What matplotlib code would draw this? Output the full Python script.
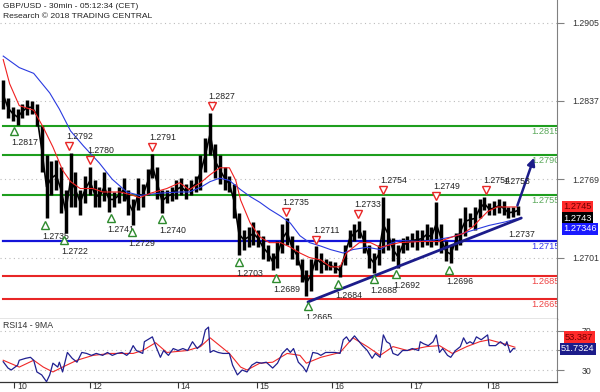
import numpy as np
import matplotlib.pyplot as plt
from matplotlib import transforms

plt.rcParams['font.family'] = ['Liberation Sans', 'DejaVu Sans']

# 30 min bars, one sample every 3 bars (low / high of the sample)
bars = np.arange(2, 324, 3)
bar_low = [1.2830, 1.2822, 1.2820, 1.2816, 1.2822, 1.2825, 1.2826, 1.2815, 1.2775, 1.2735,
           1.2755, 1.2760, 1.2740, 1.2722, 1.2745, 1.2745, 1.2738, 1.2748, 1.2755, 1.2745,
           1.2745, 1.2750, 1.2741, 1.2745, 1.2748, 1.2750, 1.2738, 1.2729, 1.2742, 1.2745,
           1.2755, 1.2770, 1.2752, 1.2740, 1.2748, 1.2750, 1.2752, 1.2755, 1.2752, 1.2755,
           1.2758, 1.2760, 1.2775, 1.2790, 1.2770, 1.2765, 1.2760, 1.2758, 1.2735, 1.2703,
           1.2708, 1.2710, 1.2712, 1.2710, 1.2700, 1.2698, 1.2690, 1.2692, 1.2705, 1.2712,
           1.2700, 1.2695, 1.2680, 1.2668, 1.2672, 1.2690, 1.2688, 1.2690, 1.2690, 1.2688,
           1.2684, 1.2695, 1.2710, 1.2715, 1.2718, 1.2705, 1.2692, 1.2688, 1.2695, 1.2705,
           1.2708, 1.2698, 1.2692, 1.2705, 1.2708, 1.2710, 1.2708, 1.2710, 1.2712, 1.2710,
           1.2712, 1.2705, 1.2698, 1.2696, 1.2708, 1.2712, 1.2720, 1.2728, 1.2725, 1.2735,
           1.2742, 1.2738, 1.2738, 1.2740, 1.2738, 1.2735, 1.2736, 1.2738]
bar_high = [1.2855, 1.2840, 1.2832, 1.2830, 1.2834, 1.2838, 1.2837, 1.2834, 1.2815, 1.2790,
            1.2785, 1.2786, 1.2780, 1.2760, 1.2792, 1.2775, 1.2760, 1.2772, 1.2780, 1.2768,
            1.2762, 1.2775, 1.2762, 1.2758, 1.2762, 1.2770, 1.2760, 1.2752, 1.2770, 1.2765,
            1.2778, 1.2791, 1.2780, 1.2760, 1.2760, 1.2762, 1.2768, 1.2770, 1.2765, 1.2768,
            1.2772, 1.2790, 1.2805, 1.2827, 1.2800, 1.2790, 1.2780, 1.2772, 1.2765, 1.2740,
            1.2725, 1.2728, 1.2732, 1.2725, 1.2720, 1.2712, 1.2705, 1.2715, 1.2730, 1.2735,
            1.2720, 1.2712, 1.2700, 1.2690, 1.2700, 1.2711, 1.2705, 1.2700, 1.2698, 1.2697,
            1.2695, 1.2712, 1.2725, 1.2730, 1.2733, 1.2725, 1.2712, 1.2705, 1.2712, 1.2754,
            1.2735, 1.2718, 1.2712, 1.2718, 1.2720, 1.2722, 1.2725, 1.2725, 1.2730, 1.2728,
            1.2749, 1.2730, 1.2715, 1.2712, 1.2722, 1.2735, 1.2745, 1.2740, 1.2745, 1.2752,
            1.2754, 1.2748, 1.2750, 1.2752, 1.2750, 1.2745, 1.2745, 1.2746]

# moving averages on price
ma_fast_t = [2, 6, 12, 21, 27, 33, 39, 44, 50, 58, 64, 75, 83, 87, 94, 104, 112, 118, 125, 131,
             137, 143, 147, 150, 156, 162, 168, 175, 181, 187, 193, 200, 206, 212, 216, 224, 231,
             237, 243, 249, 262, 274, 282, 289, 295, 299, 304, 310, 316, 322]
ma_fast = [1.2873, 1.2852, 1.2833, 1.2829, 1.2814, 1.2797, 1.2777, 1.2767, 1.2761, 1.2761,
           1.2758, 1.2758, 1.2755, 1.2753, 1.2757, 1.2761, 1.2766, 1.2760, 1.2766, 1.2773,
           1.2779, 1.2779, 1.2768, 1.2751, 1.2731, 1.2719, 1.2714, 1.2714, 1.2710, 1.2705,
           1.2701, 1.2699, 1.2693, 1.2693, 1.2705, 1.2714, 1.2714, 1.2710, 1.2712, 1.2714,
           1.2715, 1.2715, 1.2719, 1.2722, 1.2728, 1.2734, 1.2741, 1.2745, 1.2745, 1.2745]
ma_slow_t = [2, 12, 21, 31, 37, 44, 52, 62, 70, 79, 87, 100, 112, 118, 125, 131, 137, 143, 150,
             156, 162, 168, 175, 181, 187, 193, 200, 206, 214, 220, 229, 237, 243, 249, 262, 274,
             282, 293, 305, 315, 322]
ma_slow = [1.2876, 1.2866, 1.2861, 1.2844, 1.2830, 1.2811, 1.2798, 1.2783, 1.2769, 1.2758,
           1.2755, 1.2757, 1.2758, 1.2758, 1.2762, 1.2767, 1.2770, 1.2768, 1.2760, 1.2754,
           1.2749, 1.2743, 1.2737, 1.2731, 1.2720, 1.2714, 1.2711, 1.2708, 1.2705, 1.2708,
           1.2710, 1.2708, 1.2713, 1.2716, 1.2715, 1.2717, 1.2719, 1.2724, 1.2729, 1.2732,
           1.27346]

# RSI 14 and its 9 period MA
rsi_t = [2, 5, 7, 11, 12, 16, 19, 21, 23, 26, 29, 31, 33, 36, 37, 39, 42, 45, 48, 51, 54, 57,
         60, 64, 67, 70, 73, 76, 79, 81, 83, 85, 89, 90, 92, 95, 97, 100, 102, 105, 108, 111,
         114, 117, 120, 123, 126, 128, 130, 131, 133, 136, 139, 143, 145, 148, 151, 154, 157,
         160, 163, 166, 170, 173, 176, 179, 181, 183, 186, 189, 191, 193, 195, 198, 200, 203,
         206, 209, 212, 214, 216, 218, 221, 223, 226, 229, 232, 234, 237, 239, 241, 243, 245,
         248, 251, 254, 257, 261, 262, 264, 267, 270, 272, 274, 276, 279, 281, 284, 287, 289,
         291, 293, 295, 297, 300, 304, 305, 309, 312, 315, 316, 318, 320, 321]
rsi = [38.5, 32, 30, 35, 40, 42, 43, 40, 28, 25, 18, 25, 37, 33, 38, 28, 48, 42, 38, 48, 47, 45,
       47, 45, 48, 45, 47, 48, 45, 48, 55, 50, 47, 59, 61, 64, 55, 43, 50, 45, 52, 50,
       52, 50, 59, 52, 57, 71, 74, 48, 50, 48, 47, 47, 35, 25, 30, 28, 35,
       38, 37, 38, 32, 37, 47, 52, 48, 52, 38, 33, 28, 37, 48, 47, 45, 48,
       48, 48, 47, 61, 64, 59, 65, 61, 55, 50, 42, 47, 43, 66, 59, 57, 47,
       45, 50, 50, 52, 50, 59, 57, 55, 59, 66, 48, 52, 45, 43, 50, 54, 63,
       57, 59, 57, 64, 61, 66, 55, 55, 59, 55, 59, 48, 52, 51.7324]
rsi_ma_t = [2, 12, 21, 27, 33, 39, 48, 58, 69, 83, 89, 97, 104, 117, 125, 131, 137, 143, 150,
            154, 162, 170, 179, 187, 191, 200, 212, 220, 229, 237, 245, 254, 266, 274, 282, 291,
            299, 305, 314, 321]
rsi_ma = [40, 33, 40, 33, 28, 33, 40, 45, 47, 47, 50, 58, 48, 50, 54, 63, 55, 47, 33,
          30, 37, 38, 47, 45, 37, 43, 48, 63, 54, 45, 54, 50, 54, 55, 47, 54,
          59, 61, 57, 53.387]

# analysis levels
resistances = [1.2815, 1.2790, 1.2755]
pivot = 1.2715
supports = [1.2685, 1.2665]

# swing points: bar, price, 'L' low / 'H' high, marker shown
swings = [(9, 1.2817, 'L', True), (28, 1.2735, 'L', True), (40, 1.2722, 'L', True),
          (69, 1.2741, 'L', True), (82, 1.2729, 'L', True), (101, 1.2740, 'L', True),
          (149, 1.2703, 'L', True), (172, 1.2689, 'L', True), (192, 1.2665, 'L', True),
          (211, 1.2684, 'L', True), (233, 1.2688, 'L', True), (247, 1.2692, 'L', True),
          (280, 1.2696, 'L', True), (318.6, 1.2737, 'L', False),
          (43, 1.2792, 'H', True), (56, 1.2780, 'H', True), (95, 1.2791, 'H', True),
          (132, 1.2827, 'H', True), (178, 1.2735, 'H', True), (197, 1.2711, 'H', True),
          (223, 1.2733, 'H', True), (239, 1.2754, 'H', True), (272, 1.2749, 'H', True),
          (303, 1.2754, 'H', True), (315.5, 1.2753, 'H', False)]

trend_t = [192, 325]
trend_p = [1.26625, 1.27354]
target_t = [322, 333.5]
target_p = [1.2744, 1.2790]

day_ticks = [9, 56, 111, 160, 207, 256, 304]
day_labels = ['10', '12', '14', '15', '16', '17', '18']
price_ticks = [1.2905, 1.2837, 1.2769, 1.2701]
rsi_ticks = [70, 50, 30]
rsi_tick_labels = ['70', '', '30']   # the 50 label sits under the RSI value box

last_close = 1.2743

green = '#1e9e1e'
blue = '#1414d8'
red = '#e82626'
navy = '#1c1c8a'
fs = 6.3

fig = plt.figure(figsize=(6, 3.92), dpi=100)
ax = fig.add_axes([0, 73 / 392, 557 / 600, 319 / 392])
ax2 = fig.add_axes([0, 10 / 392, 557 / 600, 63 / 392], sharex=ax)

ax.set_xlim(0, 557 / 1.604)
ax.set_ylim(1.26477, 1.29247)
ax2.set_ylim(17.7, 82.3)

for a in (ax, ax2):
    a.spines['top'].set_visible(False)
    a.spines['left'].set_visible(False)
    a.spines['right'].set_color('#808080')
    a.spines['bottom'].set_color('#333333')
    a.spines['bottom'].set_linewidth(0.9)
    a.yaxis.tick_right()
    a.grid(axis='y', color='#bcbcbc', linestyle=(0, (1, 3)), lw=0.8)
    a.set_axisbelow(True)

ax.set_yticks(price_ticks)
ax.set_yticklabels([f'{v:.4f}' for v in price_ticks])
ax.tick_params(axis='y', length=5, color='#808080', labelsize=fs, pad=6, labelcolor='#333333')
ax.tick_params(axis='x', bottom=False, labelbottom=False)

ax2.set_yticks(rsi_ticks)
ax2.set_yticklabels(rsi_tick_labels)
ax2.tick_params(axis='y', length=5, color='#808080', labelsize=fs, pad=13, labelcolor='#333333')
ax2.set_xticks(day_ticks)
ax2.set_xticklabels(day_labels)
ax2.tick_params(axis='x', length=4.5, color='#333333', labelsize=fs, pad=-4.5,
                labelcolor='#333333')
shift = transforms.ScaledTranslation(2.5 / 100, 0, fig.dpi_scale_trans)
for lab in ax2.get_xticklabels():
    lab.set_ha('left')
    lab.set_transform(lab.get_transform() + shift)

# level lines
for lv in resistances:
    ax.axhline(lv, xmin=0.005, color=green, lw=1.5, zorder=2)
ax.axhline(pivot, xmin=0.005, color=blue, lw=1.6, zorder=2)
for lv in supports:
    ax.axhline(lv, xmin=0.005, color=red, lw=1.5, zorder=2)

lab_x = 531 / 1.604
down = transforms.offset_copy(ax.transData, fig, x=0, y=-5, units='dots')
for lv in resistances:
    ax.text(lab_x, lv, f'{lv:.4f}', color='#5aa85a', fontsize=fs + 0.4, va='center',
            transform=down, clip_on=True)
ax.text(lab_x, pivot, f'{pivot:.4f}', color='#3a3aee', fontsize=fs + 0.4, va='center',
        transform=down, clip_on=True)
for lv in supports:
    ax.text(lab_x, lv, f'{lv:.4f}', color='#ee4444', fontsize=fs + 0.4, va='center',
            transform=down, clip_on=True)

# price bars and averages
mid = (np.array(bar_low) + np.array(bar_high)) / 2
ax.vlines(bars, bar_low, bar_high, color='black', lw=2.5, zorder=4)
ax.plot(bars, mid, color='black', lw=1.2, zorder=4)
ax.plot(ma_slow_t, ma_slow, color='#2a3ae0', lw=0.8, zorder=5)
ax.plot(ma_fast_t, ma_fast, color='#f02020', lw=0.8, zorder=5)

# trend line and target arrow
ax.plot(trend_t, trend_p, color=navy, lw=2.0, zorder=6, solid_capstyle='round')
ax.annotate('', xy=(target_t[1], target_p[1]), xytext=(target_t[0], target_p[0]),
            arrowprops=dict(arrowstyle='-|>', color=navy, lw=1.8, mutation_scale=11),
            zorder=6)

# swing markers
up6 = transforms.offset_copy(ax.transData, fig, x=0, y=6.5, units='dots')
dn6 = transforms.offset_copy(ax.transData, fig, x=0, y=-6.5, units='dots')
for t, p, kind, shown in swings:
    if kind == 'H':
        if shown:
            ax.plot(t, p, marker='v', ms=6, mfc='white', mec=red, mew=1.0,
                    transform=up6, zorder=7)
        txt = ax.annotate(f'{p:.4f}', (t, p), xytext=(-3, 16), textcoords='offset pixels',
                          fontsize=fs, color='#222222', ha='left', va='center', zorder=7)
    else:
        if shown:
            ax.plot(t, p, marker='^', ms=6, mfc='white', mec='#2e8b2e', mew=1.0,
                    transform=dn6, zorder=7, clip_on=False)
        txt = ax.annotate(f'{p:.4f}', (t, p), xytext=(-3, -18), textcoords='offset pixels',
                          fontsize=fs, color='#222222', ha='left', va='center', zorder=7)
    txt.set_clip_on(True)

# last value boxes
right = transforms.blended_transform_factory(ax.transAxes, ax.transData)
boxes = [(ma_fast[-1], 0, '#ff2a2a', '#700000', f'{ma_fast[-1]:.4f}'),
         (last_close, -9, 'black', 'white', f'{last_close:.4f}'),
         (ma_slow[-1], -10, '#1a1aff', 'white', f'{ma_slow[-1]:.5f}')]
for v, off, bg, fg, txt in boxes:
    ax.annotate(txt, (1.0, v), xycoords=right, xytext=(6, off), textcoords='offset pixels',
                fontsize=fs + 0.4, color=fg, va='center', ha='left', annotation_clip=False,
                bbox=dict(boxstyle='square,pad=0.15', fc=bg, ec='none'), zorder=9)

right2 = transforms.blended_transform_factory(ax2.transAxes, ax2.transData)
ax2.annotate(f'{rsi_ma[-1]:.3f}', (1.0, rsi_ma[-1]), xycoords=right2, xytext=(8, 10),
             textcoords='offset pixels', fontsize=fs + 0.4, color='#700000', va='center',
             ha='left', annotation_clip=False,
             bbox=dict(boxstyle='square,pad=0.15', fc='#ff2a2a', ec='none'), zorder=9)
ax2.annotate(f'{rsi[-1]:.4f}', (1.0, rsi[-1]), xycoords=right2, xytext=(4, 0),
             textcoords='offset pixels', fontsize=fs + 0.4, color='white', va='center',
             ha='left', annotation_clip=False,
             bbox=dict(boxstyle='square,pad=0.15', fc=navy, ec='none'), zorder=9)

# RSI panel
ax2.plot(rsi_ma_t, rsi_ma, color='#f02828', lw=0.8, zorder=3)
ax2.plot(rsi_t, rsi, color='#202090', lw=0.9, zorder=4)
ax2.text(3 / 557, 1 - 6 / 63, 'RSI14 - 9MA', transform=ax2.transAxes, fontsize=fs,
         color='#333333', va='center')

fig.text(3 / 600, 1 - 6 / 392, 'GBP/USD - 30min - 05:12:34 (CET)', fontsize=fs - 0.2,
         color='#222222', va='center')
fig.text(3 / 600, 1 - 16 / 392, 'Research \u00a9 2018 TRADING CENTRAL', fontsize=fs - 0.2,
         color='#222222', va='center')

fig.savefig('out.png', dpi=100)
